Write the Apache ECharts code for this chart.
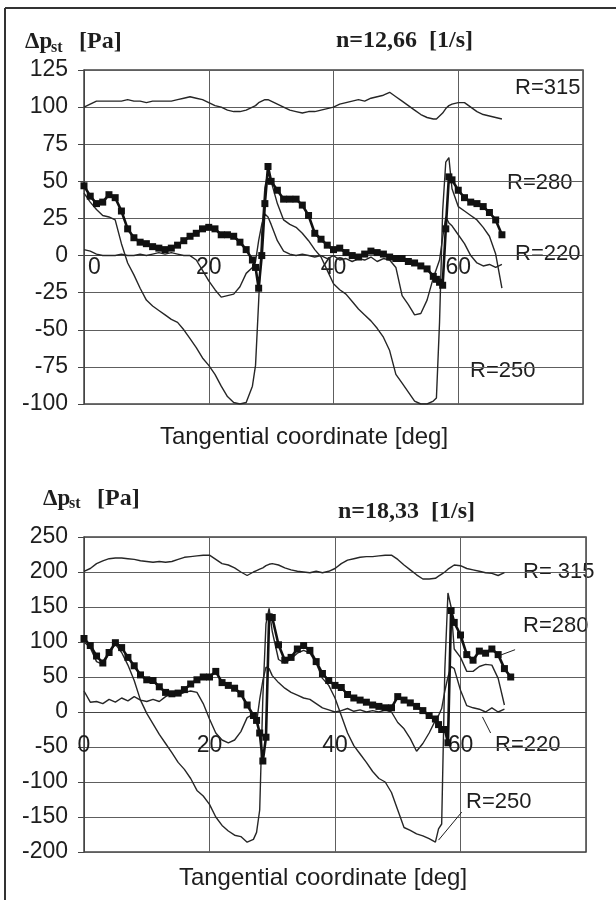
<!DOCTYPE html>
<html>
<head>
<meta charset="utf-8">
<script src="https://cdn.jsdelivr.net/npm/echarts@6/dist/echarts.min.js"></script>
<style>
  html, body { margin: 0; padding: 0; background: #fff; }
  #chart { width: 616px; height: 900px; }
</style>
</head>
<body>
<div id="chart"></div>
<script>
// tangential coordinate [deg], shared by both charts (half steps around the jumps)
const deg = [0,1,2,3,4,5,6,7,8,9,10,11,12,13,14,15,16,17,18,19,20,21,22,23,24,25,26,27,
  27.5,28,28.5,29,29.5,
  30,31,32,33,34,35,36,37,38,39,40,41,42,43,44,45,46,47,48,49,50,51,52,53,54,55,56,
  56.5,57,57.5,58,58.5,
  59,60,61,62,63,64,65,66,67,68]

// n = 12,66 1/s
const top315 = [100,102,104,104,104,104,104,105,104,104,103,104,104,104,104,105,106,107,106,105,103,101,100,98,97,97,98,100,
  101,103,104,105,105,
  104,102,100,98,97,96,97,97,98,99,100,102,103,104,105,104,106,107,108,110,107,104,101,98,95,93,92,
  92,94,96,99,101,
  102,103,103,100,97,95,94,93,92,null]
const top280 = [47,40,35,36,41,39,30,18,12,9,8,6,5,4,5,7,10,13,15,18,19,18,14,14,13,9,4,-3,
  -8,-22,0,35,60,
  50,44,38,38,38,34,27,15,11,7,4,5,2,0,-1,1,3,2,1,-1,-2,-2,-4,-5,-7,-9,-14,
  -16,-18,-20,18,53,
  51,44,39,36,35,33,29,24,14,null]
const top250 = [42,36,31,27,26,24,8,-5,-13,-22,-30,-34,-37,-40,-43,-45,-50,-56,-62,-69,-74,-80,-88,-95,-99,-100,-99,-88,
  -74,-31,15,46,56,
  50,35,24,21,19,15,10,4,-1,-10,-19,-23,-26,-31,-36,-40,-44,-49,-55,-64,-80,-86,-92,-98,-100,-100,-98,
  -96,-45,30,63,66,
  45,33,30,27,24,19,13,1,-22,null]
const top220 = [4,3,1,0,0,0,1,0,0,1,0,1,2,1,2,1,0,0,-3,-10,-17,-23,-28,-27,-26,-21,-12,-8,
  -4,10,21,28,26,
  21,10,3,1,0,1,0,-1,0,-2,0,-3,-2,-4,-2,-3,-1,-4,-2,-3,-8,-27,-33,-40,-39,-30,-15,
  -9,-3,12,26,22,
  20,14,8,0,-5,-7,-6,-8,-6,null]

// n = 18,33 1/s
const bot315 = [201,205,212,216,219,220,220,219,218,216,215,214,215,214,215,218,221,222,223,224,224,218,212,210,206,200,195,200,
  202,204,206,209,211,
  212,210,206,203,201,200,199,201,199,201,205,212,217,219,221,222,222,223,224,224,218,210,203,196,190,190,191,
  194,197,200,204,207,
  210,209,205,203,201,199,198,195,199,null]
const bot280 = [105,95,80,70,85,99,92,78,66,53,46,45,36,28,26,27,32,40,46,50,50,58,42,38,34,26,10,-5,
  -12,-30,-70,-36,136,
  135,96,74,78,90,95,88,72,55,45,38,35,25,20,17,14,10,8,6,6,22,17,13,8,2,-5,-10,
  -18,-25,-25,-44,145,
  128,110,82,74,87,84,90,82,62,50]
const bot250 = [100,92,72,68,85,97,85,67,45,17,-2,-17,-32,-45,-58,-72,-82,-95,-112,-120,-132,-150,-162,-170,-176,-178,-186,-182,
  -172,-140,20,126,148,
  115,75,70,76,84,88,84,70,48,38,20,-5,-30,-48,-60,-72,-85,-95,-100,-115,-140,-165,-169,-174,-177,-181,-186,
  -167,-160,60,170,150,
  90,78,58,58,65,68,67,48,10,null]
const bot220 = [30,14,15,12,18,14,20,16,22,17,15,18,15,22,26,24,28,30,28,12,-10,-30,-40,-44,-40,-28,-8,-3,
  -15,18,45,64,62,
  52,42,34,28,24,20,18,12,6,3,0,2,5,1,3,0,2,0,3,0,-15,-24,-38,-56,-45,-30,-12,
  -5,5,30,50,65,
  62,31,9,6,4,0,6,0,4,null]

// axis ranges and tick steps
const xRange = [0, 80, 20]
const yTop = [-100, 125, 25]
const yBot = [-200, 250, 50]

// leader lines of the lower chart, in data units [deg, Pa]
const lead280 = [[66.3, 81], [68.7, 89]]
const lead220 = [[63.5, -7], [64.8, -30]]
const lead250 = [[56.5, -183], [60.2, -143]]

const sans = '"Liberation Sans", Arial, sans-serif'
const serif = '"Liberation Serif", "Times New Roman", serif'
const ink = '#1e1e1e'

// plot boxes
const boxes = [
  { left: 84, right: 33, top: 70, height: 334 },
  { left: 84, right: 30, top: 537, height: 315 }
]

const pts = ys => deg.map((d, i) => [d, ys[i]]).filter(p => p[1] != null)
const leader = seg => ({
  symbol: 'none', silent: true, animation: false,
  label: { show: false },
  lineStyle: { color: ink, width: 1, type: 'solid' },
  data: [[{ coord: seg[0] }, { coord: seg[1] }]]
})

function thin(name, ys, g, mark) {
  const s = {
    name, type: 'line', xAxisIndex: g, yAxisIndex: g, data: pts(ys),
    showSymbol: false, smooth: false,
    lineStyle: { color: '#262626', width: 1.4 }
  }
  if (mark) s.markLine = leader(mark)
  return s
}
function thick(name, ys, g, mark) {
  const s = {
    name, type: 'line', xAxisIndex: g, yAxisIndex: g, data: pts(ys),
    symbol: 'rect', symbolSize: 7, showSymbol: true,
    itemStyle: { color: '#111' },
    lineStyle: { color: '#111', width: 2.6 }
  }
  if (mark) s.markLine = leader(mark)
  return s
}

// the x axis sits on the zero line of its y axis
function xAx(g, yr, margin, shiftZero) {
  const lift = boxes[g].height * (0 - yr[0]) / (yr[1] - yr[0])
  return {
    type: 'value', gridIndex: g, min: xRange[0], max: xRange[1], interval: xRange[2],
    position: 'bottom', offset: -lift,
    axisLine: { onZero: false, lineStyle: { color: '#444', width: 1 } },
    axisTick: { show: false },
    splitLine: { show: true, lineStyle: { color: '#5e5e5e', width: 1 } },
    axisLabel: {
      color: ink, fontFamily: sans, fontSize: 23, margin,
      showMaxLabel: false, alignMinLabel: shiftZero ? 'left' : undefined,
      formatter: v => (v === 0 && shiftZero) ? '{z|0}' : String(v),
      rich: { z: { fontFamily: sans, fontSize: 23, color: ink, padding: [0, 0, 0, 4] } }
    }
  }
}
function yAx(g, r) {
  return {
    type: 'value', gridIndex: g, min: r[0], max: r[1], interval: r[2],
    axisLine: { show: true, onZero: false, lineStyle: { color: '#444' } },
    axisTick: { show: true, length: 6, lineStyle: { color: '#444' } },
    splitLine: { show: true, lineStyle: { color: '#5e5e5e', width: 1 } },
    axisLabel: { color: ink, fontFamily: sans, fontSize: 23, margin: 16 }
  }
}

function txt(x, y, text, font, align) {
  return { type: 'text', x, y, silent: true,
    style: { text, font, fill: ink, align: align || 'left', verticalAlign: 'middle' } }
}

const chart = echarts.init(document.getElementById('chart'))

chart.setOption({
  animation: false,
  backgroundColor: '#fff',
  grid: boxes.map(b => Object.assign({ show: true, borderColor: '#444', borderWidth: 1.5 }, b)),
  xAxis: [xAx(0, yTop, 1, true), xAx(1, yBot, 22, false)],
  yAxis: [yAx(0, yTop), yAx(1, yBot)],
  series: [
    thin('R=315', top315, 0),
    thin('R=250', top250, 0),
    thin('R=220', top220, 0),
    thick('R=280', top280, 0),
    thin('R=315', bot315, 1),
    thin('R=250', bot250, 1, lead250),
    thin('R=220', bot220, 1, lead220),
    thick('R=280', bot280, 1, lead280)
  ],
  graphic: [
    { type: 'line', silent: true, shape: { x1: 5, y1: 8, x2: 5, y2: 900 }, style: { stroke: '#333', lineWidth: 2 } },
    { type: 'line', silent: true, shape: { x1: 5, y1: 8, x2: 616, y2: 8 }, style: { stroke: '#333', lineWidth: 2 } },

    txt(25, 42, 'Δp', 'bold 23px ' + serif),
    txt(51, 48, 'st', 'bold 16px ' + serif),
    txt(79, 42, '[Pa]', 'bold 24px ' + serif),
    txt(336, 41, 'n=12,66  [1/s]', 'bold 24px ' + serif),

    txt(43, 499, 'Δp', 'bold 23px ' + serif),
    txt(69, 504, 'st', 'bold 16px ' + serif),
    txt(97, 499, '[Pa]', 'bold 24px ' + serif),
    txt(338, 512, 'n=18,33  [1/s]', 'bold 24px ' + serif),

    txt(304, 437, 'Tangential coordinate [deg]', '24px ' + sans, 'center'),
    txt(323, 878, 'Tangential coordinate [deg]', '24px ' + sans, 'center'),

    txt(515, 88, 'R=315', '22px ' + sans),
    txt(507, 183, 'R=280', '22px ' + sans),
    txt(515, 254, 'R=220', '22px ' + sans),
    txt(470, 371, 'R=250', '22px ' + sans),

    txt(523, 572, 'R= 315', '22px ' + sans),
    txt(523, 626, 'R=280', '22px ' + sans),
    txt(495, 745, 'R=220', '22px ' + sans),
    txt(466, 802, 'R=250', '22px ' + sans)
  ]
})
</script>
</body>
</html>
